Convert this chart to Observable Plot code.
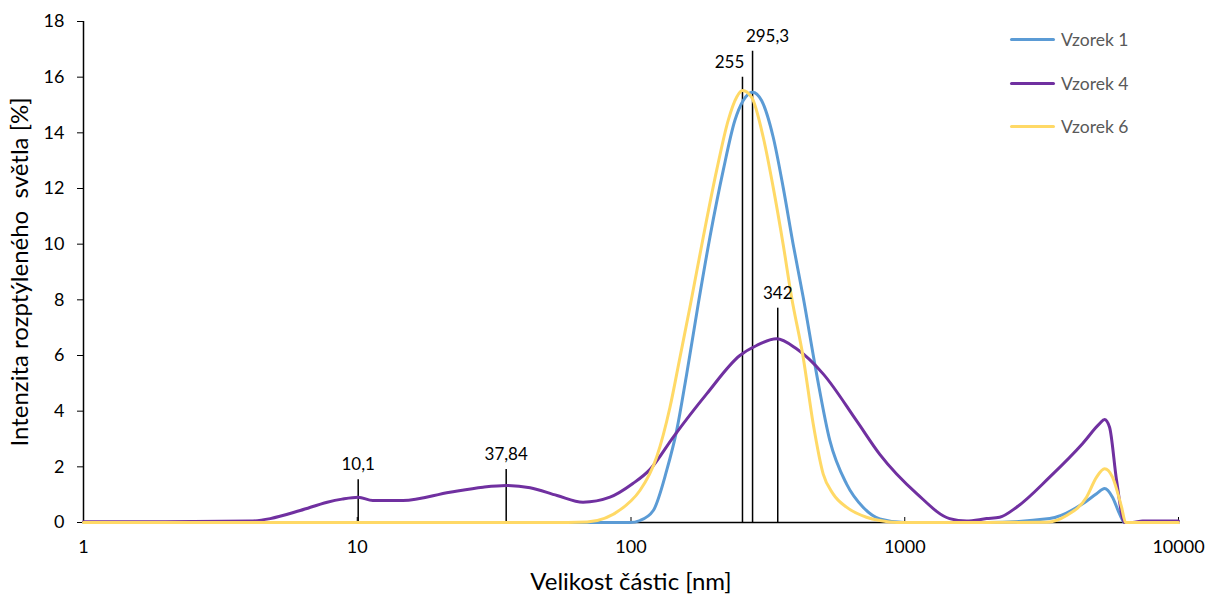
<!DOCTYPE html>
<html>
<head>
<meta charset="utf-8">
<script src="https://cdn.jsdelivr.net/npm/d3@7"></script>
<script src="https://cdn.jsdelivr.net/npm/@observablehq/plot@0.6"></script>
<style>
  html, body { margin: 0; padding: 0; background: #fff; }
  #wrap { position: relative; width: 1205px; height: 597px; font-family: Lato, "Open Sans", sans-serif; }
  #legend { position: absolute; left: 1010px; top: 18px; font-size: 17.5px; color: #595959; }
  #legend .row { display: flex; align-items: center; height: 43.5px; }
  #legend .sw { width: 45px; height: 3px; margin-right: 6px; border-radius: 2px; }
</style>
</head>
<body>
<div id="wrap"><div id="legend"></div></div>
<script>
// ---- data ----
const seriesNames = ["Vzorek 1", "Vzorek 4", "Vzorek 6"];
const seriesColors = ["#5B9BD5", "#7030A0", "#FFD966"];

const v1x = [1, 50, 99, 107.8, 120.6, 135, 146.8, 159.7, 176.1, 194.2, 217.2, 239.7, 257, 278.1, 299.9, 330.6, 359.5, 391.1, 425.5, 476.3, 532.4, 612.7, 704.4, 810.6, 1000, 2000, 3383, 4467, 5020, 5370, 5740, 6090, 6350, 6790, 10000];
const v1y = [0, 0, 0, 0.07, 0.43, 1.87, 3.3, 5.33, 7.86, 10.25, 12.65, 14.45, 15.16, 15.46, 15.16, 13.85, 12.05, 10.0, 8.1, 5.34, 2.95, 1.39, 0.55, 0.13, 0, 0, 0.14, 0.67, 1.03, 1.22, 0.91, 0.31, 0, 0, 0];

const v4x = [1, 2, 4.07, 4.81, 6.19, 7.77, 8.8, 10.08, 11.4, 14.7, 21.8, 28.8, 35.0, 42.8, 53.7, 66.8, 83.8, 101.6, 117.2, 142.7, 189, 249.9, 287.6, 340.2, 402.4, 503.4, 666.4, 810.6, 1106, 1459, 1683, 1991, 2222, 2563, 3383, 4467, 5150, 5370, 5600, 5940, 6350, 6790, 7390, 10000];
const v4y = [0.03, 0.03, 0.05, 0.14, 0.43, 0.73, 0.84, 0.91, 0.79, 0.79, 1.09, 1.27, 1.33, 1.25, 0.97, 0.73, 0.91, 1.4, 1.9, 3.07, 4.62, 6.0, 6.36, 6.6, 6.24, 5.34, 3.66, 2.45, 1.04, 0.14, 0.05, 0.14, 0.19, 0.55, 1.63, 2.84, 3.55, 3.7, 3.42, 1.51, 0, 0, 0.05, 0.05];

const v6x = [1, 50, 69.1, 100.3, 107.8, 124.1, 138.8, 151, 164.2, 183.6, 205.5, 226.5, 243.1, 255.6, 275.7, 304, 330.6, 359.5, 385.9, 425.5, 462.9, 503.4, 547.3, 612.7, 724.8, 810.6, 935, 2000, 3296, 3900, 4613, 5020, 5370, 5740, 6195, 6410, 10000];
const v6y = [0, 0, 0.02, 0.79, 1.15, 2.35, 4.14, 5.94, 7.74, 10.25, 12.65, 14.45, 15.28, 15.52, 15.28, 13.85, 12.05, 10.0, 8.1, 5.94, 3.55, 1.75, 1.03, 0.55, 0.19, 0.07, 0, 0, 0.01, 0.25, 0.91, 1.63, 1.93, 1.63, 0.55, 0, 0];

// annotations: line position (as drawn), top of line, label text
const annX = [10.08, 35.0, 255.4, 278, 343.6];
const annTop = [1.54, 1.9, 16.0, 16.93, 7.7];
const annLabel = ["10,1", "37,84", "255", "295,3", "342"];

const xTicks = [1, 10, 100, 1000, 10000];
const yTicks = [0, 2, 4, 6, 8, 10, 12, 14, 16, 18];
const xLabel = "Velikost částic [nm]";
const yLabel = "Intenzita rozptýleného  světla [%]";

// ---- build table ----
const rows = [];
[[v1x, v1y], [v4x, v4y], [v6x, v6y]].forEach(([xs, ys], k) => {
  xs.forEach((x, i) => rows.push({series: seriesNames[k], x, y: ys[i]}));
});
const ann = annX.map((x, i) => ({x, top: annTop[i], label: annLabel[i]}));

const font = "Lato, 'Open Sans', sans-serif";

const chart = Plot.plot({
  width: 1205,
  height: 597,
  marginLeft: 83,
  marginRight: 27,
  marginTop: 21,
  marginBottom: 75,
  style: {fontFamily: font, fontSize: "16px", color: "#000", background: "#fff", overflow: "visible"},
  x: {type: "log", domain: [1, 10000]},
  y: {domain: [0, 18]},
  color: {domain: seriesNames, range: seriesColors},
  marks: [
    Plot.axisY({ticks: yTicks, tickSize: 6, tickPadding: 13, fontSize: 18, label: null}),
    Plot.axisY({ticks: [], tickSize: 0, fontSize: 24, label: yLabel, labelAnchor: "center", labelOffset: 73, labelArrow: "none"}),
    Plot.axisX({ticks: xTicks, tickSize: 0, tickPadding: 18, fontSize: 18, tickFormat: d => String(d), label: null}),
    Plot.axisX({ticks: [], tickSize: 0, fontSize: 24, label: xLabel, labelAnchor: "center", labelOffset: 67, labelArrow: "none"}),
    Plot.axisX({ticks: xTicks, tickSize: 5, dy: -5, tickFormat: () => "", label: null}),
    Plot.ruleY([0], {stroke: "#000", strokeWidth: 1.5}),
    Plot.ruleX([1], {y1: 0, y2: 18, stroke: "#000", strokeWidth: 1.5}),
    Plot.ruleX(ann, {x: "x", y1: 0, y2: "top", stroke: "#000", strokeWidth: 1.5}),
    Plot.line(rows, {x: "x", y: "y", z: "series", stroke: "series", strokeWidth: 3, curve: "monotone-x"}),
    Plot.text(ann.filter(d => d.label !== "255" && d.label !== "295,3"), {x: "x", y: "top", text: "label", dy: -15, fontSize: 17, fill: "#000"}),
    Plot.text(ann.filter(d => d.label === "255"), {x: "x", y: "top", text: "label", dy: -15, dx: -13, fontSize: 17, fill: "#000"}),
    Plot.text(ann.filter(d => d.label === "295,3"), {x: "x", y: "top", text: "label", dy: -15, dx: 15, fontSize: 17, fill: "#000"})
  ]
});
document.getElementById("wrap").prepend(chart);

const legend = document.getElementById("legend");
seriesNames.forEach((n, i) => {
  const row = document.createElement("div");
  row.className = "row";
  row.innerHTML = `<div class="sw" style="background:${seriesColors[i]}"></div><span>${n}</span>`;
  legend.appendChild(row);
});
</script>
</body>
</html>
